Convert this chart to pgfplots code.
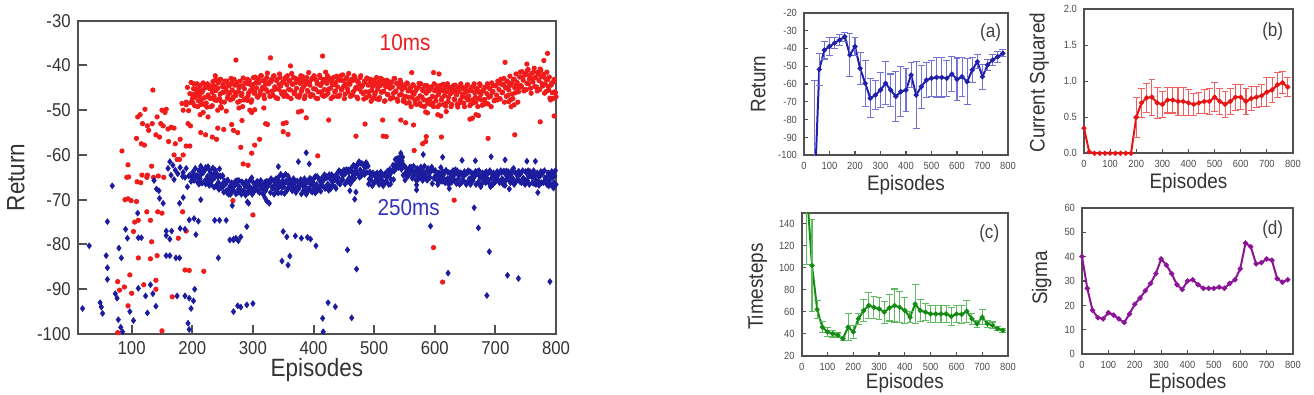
\documentclass[border=0pt]{standalone}
\usepackage{fontspec}
\setmainfont{Liberation Sans}[FakeStretch=0.9]
\usepackage{pgfplots}
\usepackage{pgfplotstable}
\pgfplotsset{compat=1.18}

\definecolor{tenred}{RGB}{240,28,28}
\definecolor{navyblue}{RGB}{28,28,158}
\definecolor{lblue}{RGB}{52,52,190}
\definecolor{framegray}{RGB}{80,80,80}
\definecolor{aline}{RGB}{32,32,170}
\definecolor{aerr}{RGB}{115,115,215}
\definecolor{bline}{RGB}{232,20,20}
\definecolor{berr}{RGB}{242,95,95}
\definecolor{cline}{RGB}{20,140,20}
\definecolor{cerr}{RGB}{95,185,95}
\definecolor{dline}{RGB}{140,20,150}

% episode, 10ms return, 250ms return (converged band, even episodes)
\pgfplotstableread{
x r b
190 -48.2 -63.0
192 -44.9 -67.1
194 -50.1 -64.7
196 -46.3 -64.5
198 -43.8 -65.9
200 -47.5 -65.1
202 -45.2 -64.5
204 -49.0 -64.9
206 -46.8 -64.6
208 -44.1 -64.6
210 -47.9 -64.9
212 -45.6 -66.3
214 -48.7 -62.5
216 -46.0 -66.3
218 -43.9 -63.9
220 -47.2 -66.1
222 -45.0 -62.8
224 -49.3 -65.5
226 -46.6 -62.6
228 -44.5 -64.9
230 -47.4 -64.0
232 -45.3 -65.5
234 -43.6 -62.9
236 -46.9 -67.2
238 -44.7 -63.4
240 -47.8 -66.8
242 -45.1 -64.9
244 -43.2 -67.7
246 -46.4 -64.7
248 -48.1 -67.3
250 -44.8 -64.8
252 -46.0 -68.3
254 -43.5 -65.9
256 -45.7 -68.0
258 -47.3 -65.6
260 -44.2 -68.8
262 -46.1 -67.0
264 -42.9 -67.8
266 -45.5 -67.6
268 -47.0 -67.9
270 -44.4 -66.6
272 -46.7 -68.7
274 -43.8 -65.7
276 -45.9 -67.7
278 -48.0 -67.1
280 -44.6 -68.2
282 -46.3 -66.0
284 -42.8 -68.3
286 -45.2 -66.5
288 -47.5 -69.0
290 -44.0 -67.0
292 -46.8 -68.1
294 -43.4 -67.0
296 -45.6 -67.8
298 -47.7 -65.1
300 -44.3 -68.1
302 -46.2 -67.2
304 -42.6 -67.1
306 -45.0 -66.3
308 -47.1 -68.0
310 -43.9 -66.1
312 -45.8 -67.2
314 -42.3 -66.7
316 -44.9 -67.6
318 -46.6 -66.7
320 -43.2 -67.1
322 -45.4 -65.9
324 -41.7 -67.1
326 -44.1 -66.2
328 -46.9 -66.1
330 -43.6 -65.3
332 -45.7 -67.2
334 -42.4 -65.8
336 -44.8 -66.8
338 -47.2 -65.3
340 -43.1 -67.7
342 -45.3 -65.0
344 -41.9 -67.1
346 -44.6 -64.3
348 -46.4 -67.2
350 -43.7 -64.8
352 -45.9 -66.3
354 -42.7 -64.3
356 -44.3 -68.0
358 -47.0 -64.7
360 -43.4 -67.1
362 -45.5 -66.7
364 -41.8 -67.8
366 -44.2 -66.3
368 -46.3 -67.1
370 -42.9 -66.0
372 -45.1 -67.8
374 -43.3 -67.0
376 -47.1 -67.3
378 -44.0 -66.6
380 -45.8 -68.7
382 -42.5 -66.8
384 -44.7 -68.0
386 -46.8 -66.6
388 -43.5 -68.8
390 -45.6 -65.9
392 -41.6 -67.7
394 -44.4 -65.2
396 -46.5 -68.1
398 -42.8 -65.8
400 -45.2 -67.1
402 -43.0 -65.0
404 -47.3 -68.1
406 -44.1 -64.8
408 -45.9 -67.3
410 -42.2 -65.7
412 -44.5 -68.1
414 -46.6 -65.2
416 -43.2 -67.0
418 -45.4 -64.4
420 -41.5 -67.3
422 -44.0 -65.1
424 -46.2 -66.6
426 -42.9 -64.4
428 -45.1 -67.6
430 -43.6 -64.4
432 -47.0 -66.8
434 -44.3 -65.0
436 -45.7 -67.2
438 -42.4 -64.3
440 -44.8 -66.1
442 -46.9 -63.5
444 -43.3 -66.5
446 -45.5 -64.2
448 -42.1 -65.5
450 -44.6 -63.4
452 -46.4 -66.5
454 -43.0 -63.3
456 -45.2 -65.7
458 -41.8 -63.9
460 -44.2 -66.0
462 -46.7 -63.0
464 -43.4 -64.9
466 -45.8 -62.3
468 -42.6 -65.2
470 -44.9 -62.9
472 -47.1 -64.1
474 -43.7 -62.0
476 -45.3 -65.0
478 -42.3 -61.8
480 -44.7 -64.1
482 -46.3 -62.3
484 -43.5 -64.4
486 -45.9 -61.9
488 -42.8 -63.9
490 -44.4 -62.5
492 -46.8 -65.4
494 -43.1 -64.3
496 -45.6 -64.7
498 -47.4 -64.0
500 -44.0 -66.2
502 -46.1 -64.4
504 -42.7 -65.8
506 -45.3 -65.4
508 -47.6 -66.6
510 -44.5 -65.0
512 -46.0 -65.8
514 -43.2 -64.6
516 -45.8 -66.5
518 -47.9 -64.5
520 -44.2 -65.8
522 -46.5 -63.6
524 -43.6 -66.6
526 -45.1 -63.2
528 -47.3 -65.5
530 -44.8 -63.5
532 -46.2 -65.5
534 -42.9 -62.4
536 -45.7 -63.1
538 -47.5 -60.8
540 -44.1 -62.8
542 -46.6 -60.7
544 -43.8 -62.1
546 -45.4 -61.4
548 -48.0 -64.5
550 -44.6 -62.5
552 -46.9 -64.0
554 -43.9 -63.6
556 -45.7 -64.7
558 -48.3 -63.1
560 -45.0 -63.9
562 -47.1 -62.8
564 -44.3 -64.7
566 -46.4 -63.8
568 -48.6 -64.1
570 -45.2 -63.4
572 -47.4 -65.5
574 -44.0 -63.7
576 -46.8 -65.1
578 -49.0 -64.6
580 -45.6 -65.7
582 -47.7 -64.1
584 -44.5 -64.9
586 -46.2 -63.7
588 -48.5 -65.6
590 -45.3 -63.6
592 -47.6 -65.1
594 -44.8 -63.1
596 -46.9 -66.4
598 -49.2 -63.4
600 -45.7 -64.9
602 -47.9 -64.5
604 -44.6 -65.7
606 -46.5 -64.2
608 -48.8 -65.0
610 -45.4 -62.8
612 -47.3 -65.9
614 -44.2 -63.9
616 -46.7 -65.4
618 -49.1 -63.5
620 -45.9 -65.7
622 -48.0 -63.9
624 -44.9 -65.4
626 -46.3 -65.0
628 -48.7 -66.1
630 -45.5 -63.5
632 -47.5 -65.5
634 -44.4 -63.3
636 -46.6 -66.4
638 -49.3 -64.3
640 -45.8 -64.7
642 -47.8 -64.0
644 -44.7 -66.2
646 -46.4 -64.4
648 -48.4 -65.8
650 -45.1 -64.3
652 -47.2 -66.6
654 -44.3 -64.0
656 -46.8 -66.0
658 -49.0 -63.7
660 -45.6 -65.7
662 -47.7 -64.8
664 -44.6 -65.2
666 -46.1 -64.5
668 -48.2 -66.6
670 -45.3 -63.7
672 -47.4 -66.3
674 -44.1 -64.8
676 -46.5 -67.1
678 -48.9 -64.4
680 -45.7 -65.3
682 -47.6 -64.2
684 -44.8 -66.2
686 -46.3 -65.3
688 -48.6 -65.6
690 -45.0 -63.8
692 -46.9 -67.1
694 -43.9 -64.2
696 -45.8 -66.6
698 -47.9 -64.8
700 -44.5 -66.0
702 -46.6 -64.5
704 -43.5 -65.4
706 -45.4 -64.2
708 -47.5 -65.9
710 -44.2 -63.9
712 -46.0 -65.4
714 -42.9 -63.6
716 -44.8 -66.8
718 -46.9 -63.6
720 -43.6 -65.1
722 -45.5 -64.7
724 -42.4 -65.9
726 -44.3 -64.4
728 -46.4 -65.2
730 -43.1 -63.0
732 -45.0 -66.1
734 -41.9 -64.1
736 -43.8 -65.6
738 -45.9 -63.7
740 -42.6 -65.9
742 -44.5 -64.1
744 -41.4 -65.6
746 -43.3 -65.2
748 -45.4 -66.3
750 -42.1 -63.7
752 -44.0 -65.7
754 -40.9 -63.5
756 -43.0 -66.6
758 -45.1 -64.5
760 -41.8 -64.9
762 -43.7 -64.2
764 -40.6 -66.4
766 -42.7 -64.6
768 -44.8 -66.0
770 -41.5 -64.5
772 -43.4 -66.8
774 -40.8 -64.2
776 -42.5 -66.2
778 -44.6 -63.9
780 -42.0 -66.0
782 -44.1 -65.1
784 -45.8 -65.5
786 -43.2 -64.8
788 -45.5 -66.9
790 -47.3 -64.1
792 -44.4 -66.7
794 -46.1 -65.1
796 -43.7 -67.4
798 -45.9 -64.7
800 -47.0 -66.6
}\bandtable

% same band, odd episodes
\pgfplotstableread{
x r b
201 -48.4 -63.8
203 -44.1 -65.7
205 -47.1 -63.0
207 -45.2 -64.8
209 -49.2 -66.1
211 -46.0 -63.5
213 -44.5 -65.3
215 -47.7 -64.3
217 -45.6 -63.2
219 -48.7 -63.8
221 -44.9 -65.7
223 -48.4 -63.0
225 -44.1 -64.8
227 -47.1 -66.1
229 -45.2 -63.5
231 -49.2 -66.6
233 -46.0 -65.6
235 -44.5 -64.5
237 -47.7 -65.1
239 -45.6 -67.0
241 -47.7 -64.3
243 -43.9 -66.1
245 -47.4 -67.4
247 -43.1 -64.8
249 -46.1 -66.6
251 -44.2 -67.0
253 -48.2 -65.9
255 -45.0 -66.5
257 -43.5 -68.4
259 -46.7 -65.7
261 -44.6 -67.5
263 -47.7 -68.8
265 -43.9 -66.2
267 -47.4 -68.0
269 -43.1 -67.0
271 -46.1 -65.9
273 -44.2 -66.5
275 -48.2 -68.4
277 -45.0 -65.7
279 -43.5 -67.5
281 -46.7 -68.8
283 -44.6 -66.2
285 -47.7 -68.0
287 -43.9 -67.0
289 -47.4 -65.9
291 -43.1 -66.5
293 -46.1 -68.4
295 -44.2 -65.7
297 -48.2 -67.5
299 -45.0 -68.8
301 -42.7 -66.2
303 -45.9 -68.0
305 -43.8 -67.0
307 -46.9 -65.9
309 -43.1 -66.5
311 -46.6 -68.4
313 -42.3 -65.7
315 -45.3 -67.5
317 -43.4 -68.8
319 -47.4 -66.2
321 -44.2 -68.0
323 -42.7 -67.0
325 -45.9 -65.9
327 -43.8 -66.5
329 -46.9 -68.4
331 -43.1 -65.7
333 -46.6 -67.5
335 -42.3 -68.8
337 -45.3 -66.2
339 -43.4 -68.0
341 -47.4 -67.0
343 -44.2 -65.9
345 -42.7 -66.5
347 -45.9 -68.4
349 -43.8 -65.7
351 -46.9 -67.1
353 -43.1 -68.4
355 -46.6 -65.8
357 -42.3 -67.6
359 -45.3 -66.6
361 -43.4 -65.5
363 -47.4 -66.1
365 -44.2 -68.0
367 -42.7 -65.3
369 -45.9 -67.1
371 -43.8 -68.4
373 -46.9 -65.8
375 -43.1 -67.6
377 -46.6 -66.6
379 -42.3 -65.5
381 -45.3 -66.1
383 -43.4 -68.0
385 -47.4 -65.3
387 -44.2 -67.1
389 -42.7 -68.4
391 -45.9 -65.8
393 -43.8 -67.6
395 -46.9 -66.6
397 -43.1 -65.5
399 -46.6 -66.1
401 -42.3 -67.5
403 -45.3 -64.8
405 -43.4 -66.6
407 -47.4 -67.9
409 -44.2 -65.3
411 -42.7 -67.1
413 -45.9 -66.1
415 -43.8 -65.0
417 -46.9 -65.6
419 -43.1 -67.5
421 -46.6 -64.8
423 -42.3 -66.6
425 -45.3 -67.9
427 -43.4 -65.3
429 -47.4 -67.1
431 -44.2 -66.1
433 -42.7 -65.0
435 -45.9 -65.6
437 -43.8 -67.5
439 -46.9 -64.8
441 -43.1 -65.1
443 -46.6 -66.4
445 -42.3 -63.8
447 -45.3 -65.6
449 -43.4 -64.6
451 -47.4 -63.5
453 -44.2 -64.1
455 -42.7 -66.0
457 -45.9 -63.3
459 -43.8 -65.1
461 -46.9 -66.4
463 -43.1 -63.8
465 -46.6 -65.6
467 -42.3 -64.6
469 -45.3 -63.5
471 -43.4 -62.3
473 -47.4 -64.2
475 -44.2 -61.5
477 -42.7 -63.3
479 -45.9 -64.6
481 -44.4 -62.0
483 -47.5 -63.8
485 -43.7 -62.8
487 -47.2 -61.7
489 -42.9 -62.3
491 -45.9 -66.5
493 -44.0 -63.8
495 -48.0 -65.6
497 -44.8 -66.9
499 -43.3 -64.3
501 -46.5 -66.1
503 -44.4 -65.1
505 -47.5 -64.0
507 -43.7 -64.6
509 -47.2 -66.5
511 -42.9 -63.8
513 -45.9 -65.6
515 -44.0 -66.9
517 -48.0 -64.3
519 -44.8 -66.1
521 -43.3 -65.1
523 -46.5 -64.0
525 -44.4 -64.6
527 -47.5 -66.5
529 -43.7 -63.8
531 -47.2 -62.3
533 -42.9 -63.6
535 -45.9 -61.0
537 -44.0 -62.8
539 -48.0 -61.8
541 -44.8 -60.7
543 -43.3 -61.3
545 -46.5 -63.2
547 -44.4 -60.5
549 -47.5 -62.3
551 -44.9 -65.6
553 -48.4 -63.0
555 -44.1 -64.8
557 -47.1 -63.8
559 -45.2 -62.7
561 -49.2 -63.3
563 -46.0 -65.2
565 -44.5 -62.5
567 -47.7 -64.3
569 -45.6 -65.6
571 -48.7 -63.0
573 -44.9 -64.8
575 -48.4 -63.8
577 -44.1 -62.7
579 -47.1 -63.3
581 -45.2 -65.2
583 -49.2 -62.5
585 -46.0 -64.3
587 -44.5 -65.6
589 -47.7 -63.0
591 -45.6 -64.8
593 -48.7 -63.8
595 -44.9 -62.7
597 -48.4 -63.3
599 -44.1 -65.2
601 -47.1 -63.5
603 -45.2 -65.3
605 -49.2 -66.6
607 -46.0 -64.0
609 -44.5 -65.8
611 -47.7 -64.8
613 -45.6 -63.7
615 -48.7 -64.3
617 -44.9 -66.2
619 -48.4 -63.5
621 -44.1 -65.3
623 -47.1 -66.6
625 -45.2 -64.0
627 -49.2 -65.8
629 -46.0 -64.8
631 -44.5 -63.7
633 -47.7 -64.3
635 -45.6 -66.2
637 -48.7 -63.5
639 -44.9 -65.3
641 -48.4 -66.6
643 -44.1 -64.0
645 -47.1 -65.8
647 -45.2 -64.8
649 -49.2 -63.7
651 -46.0 -64.3
653 -44.5 -66.2
655 -47.7 -63.5
657 -45.6 -65.3
659 -48.7 -66.6
661 -44.9 -64.0
663 -48.4 -65.8
665 -44.1 -64.8
667 -47.1 -63.7
669 -45.2 -64.3
671 -49.2 -66.2
673 -46.0 -63.5
675 -44.5 -65.3
677 -47.7 -66.6
679 -45.6 -64.0
681 -48.7 -65.8
683 -44.9 -64.8
685 -48.4 -63.7
687 -44.1 -64.3
689 -47.1 -66.2
691 -45.2 -63.5
693 -49.2 -65.3
695 -46.0 -66.6
697 -44.5 -64.0
699 -47.7 -65.8
701 -44.6 -64.8
703 -47.7 -63.7
705 -43.9 -64.3
707 -47.4 -66.2
709 -43.1 -63.5
711 -46.1 -65.3
713 -44.2 -66.6
715 -48.2 -64.0
717 -45.0 -65.8
719 -43.5 -64.8
721 -46.7 -63.7
723 -44.6 -64.3
725 -47.7 -66.2
727 -43.9 -63.5
729 -47.4 -65.3
731 -43.1 -66.6
733 -46.1 -64.0
735 -44.2 -65.8
737 -48.2 -64.8
739 -45.0 -63.7
741 -41.5 -64.3
743 -44.7 -66.2
745 -42.6 -63.5
747 -45.7 -65.3
749 -41.9 -66.6
751 -45.4 -64.0
753 -41.1 -65.8
755 -44.1 -64.8
757 -42.2 -63.7
759 -46.2 -64.3
761 -43.0 -66.2
763 -41.5 -63.5
765 -44.7 -65.3
767 -42.6 -66.6
769 -45.7 -64.0
771 -41.9 -65.8
773 -45.4 -64.8
775 -41.1 -63.7
777 -44.1 -64.3
779 -42.2 -66.2
781 -46.2 -63.5
783 -43.0 -65.3
785 -41.5 -66.6
787 -44.7 -64.0
789 -42.6 -65.8
791 -47.7 -64.8
793 -43.9 -63.7
795 -47.4 -64.3
797 -43.1 -66.2
799 -46.1 -63.5
}\bandtableodd

% 10ms: early learning phase and scattered returns
\pgfplotstableread{
x y
77 -99.7
77 -88.3
80 -90.2
84 -59.1
88 -89.5
89 -70.0
92 -65.0
94 -93.7
94 -69.8
94 -62.2
95 -64.9
97 -86.8
99 -70.2
100 -90.9
103 -77.1
105 -75.0
108 -70.4
108 -56.3
109 -66.0
110 -51.5
111 -74.6
111 -83.0
114 -51.0
115 -66.2
116 -57.5
117 -64.5
118 -53.0
120 -89.0
121 -57.8
122 -49.8
125 -72.7
125 -65.0
126 -64.5
126 -53.5
128 -54.5
131 -74.6
131 -83.2
133 -62.5
133 -79.4
134 -53.0
135 -45.5
136 -65.0
140 -90.0
140 -88.0
140 -55.5
142 -82.5
142 -51.5
143 -72.7
144 -64.7
146 -56.0
148 -53.0
150 -99.3
150 -73.0
150 -50.0
152 -53.5
153 -65.0
155 -50.5
157 -49.8
160 -54.2
161 -57.0
165 -53.8
167 -91.7
170 -54.0
170 -60.0
172 -57.5
175 -61.0
177 -78.6
179 -61.0
180 -56.5
183 -48.5
184 -72.7
185 -60.0
185 -50.0
188 -85.7
190 -77.0
190 -58.0
190 -48.8
193 -53.0
195 -85.8
196 -58.0
197 -53.5
197 -48.3
200 -46.5
206 -46.2
212 -46.8
213 -51.0
214 -55.0
218 -50.5
219 -86.0
222 -55.5
226 -51.5
233 -56.0
233 -49.0
238 -42.3
238 -43.3
240 -56.5
242 -54.0
242 -50.0
247 -49.2
248 -49.5
252 -54.3
256 -50.2
265 -53.2
267 -70.2
268 -54.5
272 -38.8
275 -55.0
277 -49.5
280 -58.3
282 -52.3
283 -49.2
284 -62.0
288 -47.5
291 -47.8
292 -62.3
295 -50.0
298 -59.6
298 -50.5
300 -73.4
303 -57.8
303 -49.9
311 -56.5
318 -49.5
321 -53.0
324 -53.2
329 -38.3
350 -53.0
350 -54.8
355 -52.8
358 -55.4
362 -40.1
375 -50.4
380 -50.2
388 -51.7
407 -60.2
415 -37.9
425 -52.2
470 -55.8
485 -53.1
514 -52.2
515 -55.8
520 -55.9
544 -52.2
552 -52.8
562 -41.6
565 -53.3
566 -59.0
580 -57.5
585 -50.4
585 -57.0
586 -55.9
588 -50.6
598 -41.6
598 -80.7
605 -51.0
607 -41.9
610 -51.3
611 -56.0
613 -88.4
619 -50.3
632 -70.1
658 -52.0
662 -51.8
668 -51.0
672 -51.2
688 -56.3
716 -39.3
722 -48.1
726 -49.2
731 -48.8
732 -55.5
752 -39.7
774 -52.6
780 -38.9
786 -37.3
797 -51.3
}\redscatter

% 250ms: early learning phase and scattered returns
\pgfplotstableread{
x y
19 -94.3
30 -80.3
48 -93.0
50 -94.0
52 -95.4
58 -82.5
60 -74.9
60 -85.2
60 -87.8
68 -66.9
73 -91.0
76 -92.0
78 -96.8
79 -80.8
82 -98.5
83 -83.0
85 -99.5
90 -76.6
93 -78.6
97 -95.0
103 -97.0
110 -73.0
111 -89.8
111 -78.5
116 -78.5
123 -91.5
126 -95.3
131 -89.0
135 -91.0
137 -65.7
140 -93.8
141 -67.6
145 -68.0
146 -69.7
152 -70.8
157 -78.0
157 -82.5
157 -77.0
160 -63.0
163 -78.8
163 -82.5
163 -61.5
165 -64.5
166 -77.0
168 -62.3
170 -65.5
172 -63.4
173 -83.0
175 -91.5
176 -64.2
179 -83.0
179 -70.8
180 -76.4
180 -62.8
184 -64.8
185 -69.5
185 -63.9
188 -91.5
188 -76.6
188 -65.0
193 -97.6
195 -92.0
195 -99.0
195 -74.5
198 -94.3
202 -92.6
203 -74.2
204 -90.0
206 -77.8
210 -74.8
211 -66.5
214 -70.0
215 -63.0
222 -66.5
225 -62.8
228 -66.8
235 -64.3
237 -74.6
243 -83.0
245 -74.6
245 -63.1
250 -64.6
256 -74.6
262 -79.0
266 -71.3
268 -78.8
268 -95.0
268 -79.0
272 -78.6
275 -93.7
276 -79.2
280 -94.0
280 -78.3
290 -93.5
290 -76.0
291 -70.5
293 -70.8
300 -93.2
320 -69.6
323 -70.3
327 -70.8
340 -68.3
342 -68.5
342 -62.6
348 -83.7
350 -77.1
352 -68.6
356 -78.3
358 -84.6
361 -82.6
370 -78.1
375 -61.5
380 -78.6
388 -59.5
390 -78.4
393 -62.0
395 -78.8
398 -68.3
403 -68.5
404 -80.3
415 -96.5
416 -99.5
424 -93.0
436 -93.9
456 -81.2
460 -68.0
463 -96.4
468 -69.9
470 -68.3
471 -85.5
476 -74.9
544 -59.6
570 -66.7
570 -67.8
581 -59.9
593 -75.9
613 -60.5
622 -86.4
624 -67.5
645 -61.2
665 -71.8
667 -61.3
672 -76.3
686 -91.4
690 -81.6
693 -60.4
716 -61.1
720 -86.9
723 -67.6
738 -87.6
752 -61.4
766 -61.4
770 -68.4
790 -88.3
}\bluescatter

% (a) return, mean and spread
\pgfplotstableread{
x y e
40 -126 68
60 -51.8 9
80 -41 5
100 -39 5
120 -37 3
140 -35.3 3
160 -33.5 2.5
180 -43.7 12
200 -39 5
220 -51.2 9
240 -59.6 13
260 -68 11
280 -66.2 8
300 -63.4 10
320 -59.6 12
340 -63.4 9
360 -67 14
380 -64.3 14
400 -63.4 12
420 -55 7
440 -66.2 19
460 -61.5 12
480 -57.8 10
500 -56.8 10
520 -56.3 11
540 -56.3 11
560 -56.8 10
580 -54.4 10
600 -57.4 12
620 -55.9 11
640 -58.7 13
660 -52.1 7
680 -47.5 4
700 -55.9 7
720 -49.3 3
740 -46.5 3
760 -44.7 3
780 -42.8 2
}\tabA

% (b) current squared (x 1e4)
\pgfplotstableread{
x y
0 0.35
20 0.02
40 0.0
60 0.0
80 0.0
100 0.0
120 0.0
140 0.0
160 0.0
180 0.0
200 0.5
}\tabBstart
\pgfplotstableread{
x y e
200 0.5 0.28
220 0.7 0.2
240 0.77 0.2
260 0.78 0.25
280 0.7 0.22
300 0.68 0.18
320 0.74 0.18
340 0.74 0.18
360 0.72 0.2
380 0.72 0.2
400 0.7 0.18
420 0.68 0.15
440 0.7 0.15
460 0.72 0.17
480 0.72 0.18
500 0.78 0.2
520 0.72 0.18
540 0.68 0.18
560 0.72 0.18
580 0.78 0.18
600 0.78 0.17
620 0.72 0.18
640 0.76 0.17
660 0.78 0.15
680 0.8 0.15
700 0.85 0.2
720 0.88 0.17
740 0.95 0.17
760 0.98 0.15
780 0.92 0.13
}\tabB

% (c) timesteps
\pgfplotstableread{
x y e
20 170 67
40 102 42
60 62 8
80 46 5
100 41.6 4
120 40 3
140 38.6 2
160 35.6 2
180 46 12
200 41.6 6
220 53.6 5
240 61 10
260 65.6 12
280 64 10
300 62.6 10
320 59.6 10
340 63.5 12
360 65.6 15
380 64 14
400 61 12
420 55 5
440 67 18
460 61 10
480 59.6 8
500 58 8
520 58 8
540 58 8
560 58 8
580 55.7 8
600 58 8
620 57.5 8
640 60.5 10
660 53.6 5
680 49 3
700 55 7
720 49 3
740 47.6 3
760 44.6 2
780 43 2
}\tabC

% (d) sigma
\pgfplotstableread{
x y
0 40
20 27
40 18
60 15
80 14.5
100 17
120 16
140 14.5
160 13
180 16.5
200 20.5
220 23
240 26
260 29
280 33
300 39
320 36.5
340 33
360 28.5
380 26.5
400 30
420 30.5
440 28.5
460 27
480 27
500 27
520 27.5
540 27
560 29
580 30.5
600 35
620 45.5
640 44
660 37
680 37.5
700 39
720 38.5
740 31
760 29.5
780 30.5
}\tabD

\pgfplotsset{
  smallax/.style={
    scale only axis,
    xmin=0, xmax=800,
    xtick={0,100,...,800},
    tick align=inside,
    xtick pos=bottom, ytick pos=left,
    axis line style={framegray, line width=0.9pt},
    major tick length=2pt,
    tick style={framegray, line width=0.6pt},
    tick label style={font=\fontsize{5.2}{6}\selectfont, text=black!70},
    label style={font=\fontsize{10.5}{12}\selectfont, text=black!80},
    xlabel=Episodes,
    /pgf/number format/assume math mode=true,
  },
  errplot/.style n args={2}{
    color=#1, line width=1pt, mark=*, mark size=0.7pt,
    error bars/.cd, y dir=both, y explicit,
    error bar style={color=#2, line width=0.55pt},
    error mark options={rotate=90, color=#2, mark size=1.7pt, line width=0.55pt},
  },
  redpts/.style={only marks, mark=*, mark size=1.1pt, color=tenred},
  bluepts/.style={only marks, mark=diamond*, mark size=1.4pt, color=navyblue},
}

\begin{document}
\begin{tikzpicture}
\useasboundingbox (0,0) rectangle (657pt,197.5pt);

% main scatter: 10ms vs 250ms
\begin{axis}[
  at={(38.85pt,30.5pt)}, anchor=south west,
  scale only axis, width=239.15pt, height=156.65pt,
  xmin=11, xmax=800, ymin=-100, ymax=-30,
  xtick={100,200,...,800}, ytick={-100,-90,...,-30},
  xtick pos=bottom, ytick pos=left, tick align=inside,
  major tick length=4.5pt,
  axis line style={framegray, line width=1.15pt},
  tick style={framegray, line width=1pt},
  tick label style={font=\fontsize{9.3}{10}\selectfont, text=black!80},
  /pgf/number format/assume math mode=true,
  xlabel=Episodes, ylabel=Return,
  label style={font=\fontsize{12.5}{14}\selectfont, text=black!80},
  xlabel style={at={(axis description cs:0.5,-0.115)}, anchor=center},
  ylabel style={at={(axis description cs:-0.129,0.5)}, anchor=center},
]
\addplot[redpts] table[x=x, y=r] {\bandtable};
\addplot[redpts] table[x=x, y=r] {\bandtableodd};
\addplot[redpts] table[x=x, y=y] {\redscatter};
\addplot[bluepts] table[x=x, y=b] {\bandtable};
\addplot[bluepts] table[x=x, y=b] {\bandtableodd};
\addplot[bluepts] table[x=x, y=y] {\bluescatter};
\node[text=tenred, font=\fontsize{11.5}{13}\selectfont] at (axis cs:551,-35.0) {10ms};
\node[text=lblue, font=\fontsize{11.5}{13}\selectfont] at (axis cs:557,-71.85) {250ms};
\end{axis}

% (a) return
\begin{axis}[smallax,
  at={(402pt,119.85pt)}, anchor=south west,
  width=102pt, height=71.3pt,
  ymin=-100, ymax=-20, ytick={-100,-90,...,-20},
  ylabel=Return,
  xlabel style={at={(axis description cs:0.5,-0.208)}, anchor=center},
  ylabel style={at={(axis description cs:-0.224,0.5)}, anchor=center},
]
\addplot[errplot={aline}{aerr}] table[x=x, y=y, y error=e] {\tabA};
\node[font=\fontsize{9.5}{11}\selectfont, text=black!75] at (axis description cs:0.915,0.863) {(a)};
\end{axis}

% (b) current squared
\begin{axis}[smallax,
  at={(542pt,120.85pt)}, anchor=south west,
  width=104.5pt, height=72pt,
  ymin=0, ymax=2, ytick={0,0.5,...,2},
  yticklabel style={/pgf/number format/.cd, fixed, fixed zerofill, precision=1},
  ylabel=Current Squared,
  xlabel style={at={(axis description cs:0.5,-0.208)}, anchor=center},
  ylabel style={at={(axis description cs:-0.214,0.49)}, anchor=center},
]
\addplot[color=bline, line width=1pt, mark=*, mark size=0.7pt] table[x=x, y=y] {\tabBstart};
\addplot[errplot={bline}{berr}] table[x=x, y=y, y error=e] {\tabB};
\node[font=\fontsize{9.5}{11}\selectfont, text=black!75] at (axis description cs:0.903,0.844) {(b)};
\node[font=\fontsize{2.6}{3}\selectfont, text=black!60] at (axis description cs:0.07,1.045) {1e4};
\end{axis}

% (c) timesteps
\begin{axis}[smallax,
  at={(400.85pt,19.65pt)}, anchor=south west,
  width=103.15pt, height=71.5pt,
  ymin=20, ymax=150, ytick={20,40,...,140},
  ylabel=Timesteps,
  xlabel style={at={(axis description cs:0.5,-0.19)}, anchor=center},
  ylabel style={at={(axis description cs:-0.215,0.483)}, anchor=center},
]
\addplot[errplot={cline}{cerr}] table[x=x, y=y, y error=e] {\tabC};
\node[font=\fontsize{9.5}{11}\selectfont, text=black!75] at (axis description cs:0.909,0.856) {(c)};
\end{axis}

% (d) sigma
\begin{axis}[smallax,
  at={(541pt,20.35pt)}, anchor=south west,
  width=105.5pt, height=73.3pt,
  ymin=0, ymax=60, ytick={0,10,...,60},
  ylabel=Sigma,
  xlabel style={at={(axis description cs:0.5,-0.196)}, anchor=center},
  ylabel style={at={(axis description cs:-0.191,0.52)}, anchor=center},
]
\addplot[color=dline, line width=1pt, mark=*, mark size=0.75pt] table[x=x, y=y] {\tabD};
\node[font=\fontsize{9.5}{11}\selectfont, text=black!75] at (axis description cs:0.904,0.848) {(d)};
\end{axis}
\end{tikzpicture}
\end{document}
